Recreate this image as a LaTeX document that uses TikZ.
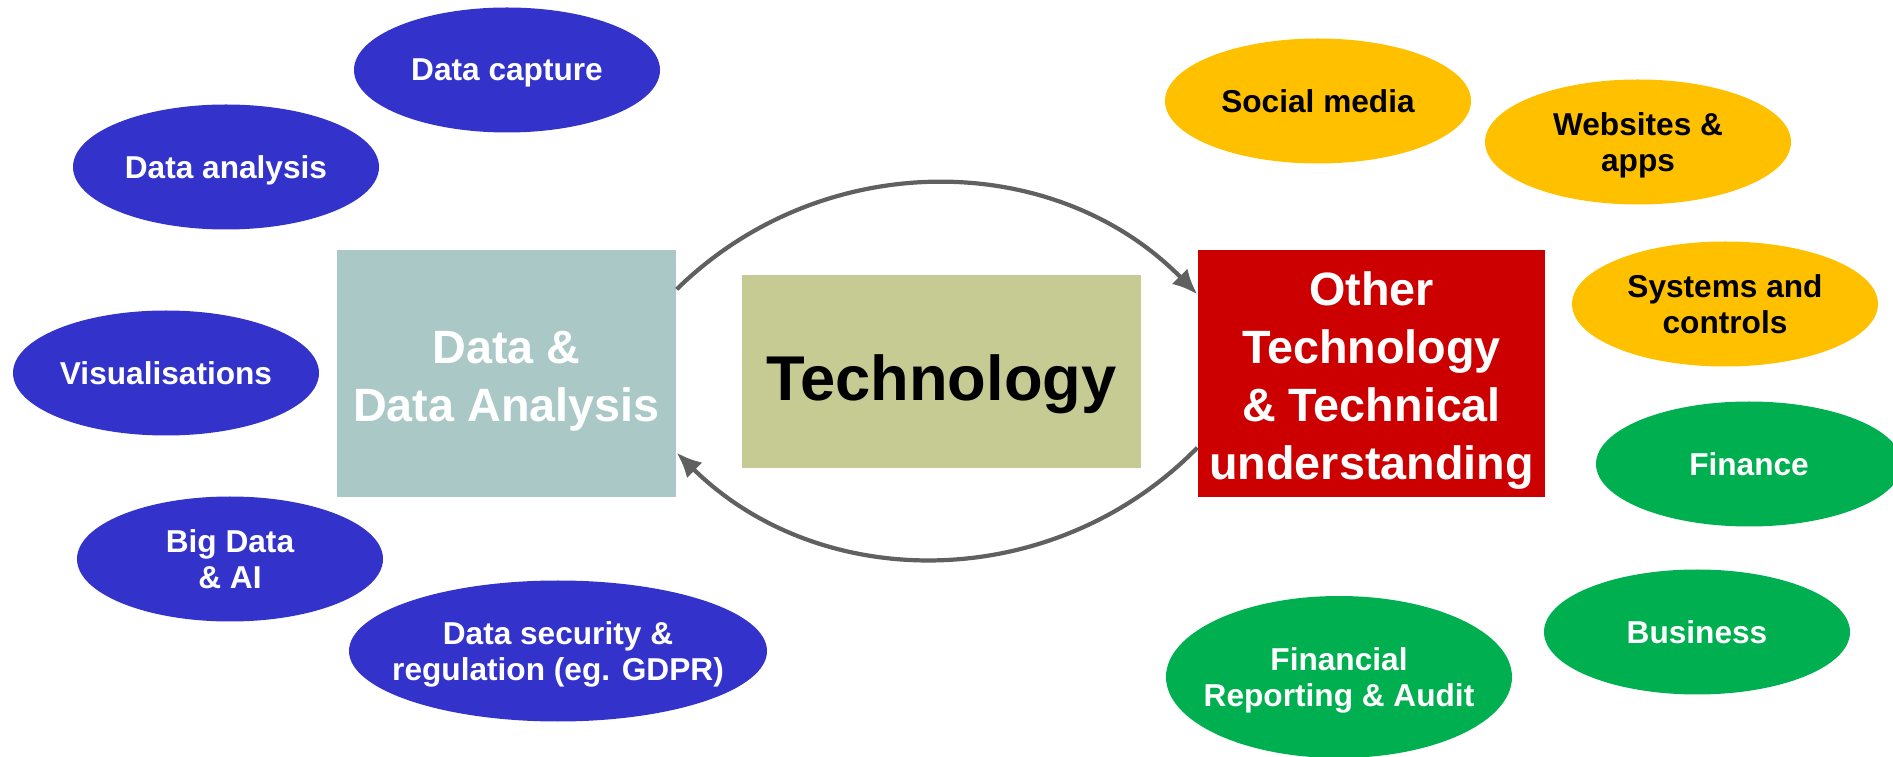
\documentclass[tikz,border=0pt]{standalone}
\usepackage{fontspec}
\setmainfont{Liberation Sans}
\usetikzlibrary{positioning,shapes.geometric,arrows.meta}

\definecolor{bubblue}{HTML}{3333CC}
\definecolor{bubyellow}{HTML}{FFC000}
\definecolor{bubgreen}{HTML}{00B050}
\definecolor{datateal}{HTML}{A9C8C6}
\definecolor{techolive}{HTML}{C6CA93}
\definecolor{othred}{HTML}{CC0000}
\definecolor{arrowgray}{HTML}{606060}

\tikzset{
    bubble/.style={ellipse, inner ysep=0pt, inner xsep=-4mm, minimum width=3.06cm, minimum height=1.25cm,
        text depth=0pt, align=center, font=\fontsize{9}{10.5}\selectfont\bfseries},
    bigbox/.style={rectangle, inner sep=0pt},
    boxtext/.style={inner sep=0pt, align=center, text=white,
        font=\fontsize{13.3}{16.5}\selectfont\bfseries},
    flow/.style={arrowgray, line width=1.2pt, -{Latex[length=2.5mm,width=2.2mm]}}
}

\begin{document}
\begin{tikzpicture}
    \useasboundingbox (0,0) rectangle (18.93,7.56);

    % centre boxes
    \node[bigbox, fill=datateal, minimum width=3.39cm, minimum height=2.47cm] (dat) at (5.065,3.825) {};
    \node[bigbox, fill=techolive, minimum width=3.99cm, minimum height=1.93cm] (tech) at (9.415,3.845) {};
    \node[bigbox, fill=othred, minimum width=3.47cm, minimum height=2.47cm] (oth) at (13.715,3.825) {};

    \node[boxtext] (dattxt) at ([yshift=-0.8mm]dat.center) {Data \&\\Data Analysis};
    \node[boxtext, text=black, font=\fontsize{18}{20}\selectfont\bfseries] (techtxt) at ([yshift=-1.3mm]tech.center) {Technology};
    \node[boxtext] (othtxt) at ([yshift=-0.7mm]oth.center) {Other\\Technology\\\& Technical\\understanding};

    \draw[flow] ([yshift=-4mm]dat.north east) to[bend left=45] ([yshift=-4.5mm]oth.north west);
    \draw[flow] ([yshift=5mm]oth.south west) to[bend left=45] ([yshift=4.5mm]dat.south east);

    % data side
    \node[bubble, fill=bubblue, text=white] (cap) at (5.07,6.86) {Data capture};
    \node[bubble, fill=bubblue, text=white] (ana) at (2.26,5.89) {Data analysis};
    \node[bubble, fill=bubblue, text=white] (vis) at (1.66,3.83) {Visualisations};
    \node[bubble, fill=bubblue, text=white] (big) at (2.30,1.97) {Big Data\\\& AI};
    \node[bubble, fill=bubblue, text=white, minimum width=4.18cm, minimum height=1.41cm] (sec) at (5.58,1.05) {Data security \&\\regulation (eg. GDPR)};

    % technology side
    \node[bubble, fill=bubyellow] (soc) at (13.18,6.55) {Social media};
    \node[bubble, fill=bubyellow] (web) at (16.38,6.14) {Websites \&\\apps};
    \node[bubble, fill=bubyellow] (sys) at (17.25,4.52) {Systems and\\controls};

    % business side
    \node[bubble, fill=bubgreen, text=white] (fin) at (17.49,2.92) {Finance};
    \node[bubble, fill=bubgreen, text=white] (bus) at (16.97,1.24) {Business};
    \node[bubble, fill=bubgreen, text=white, minimum width=3.46cm, minimum height=1.62cm] (frep) at (13.39,0.79) {Financial\\Reporting \& Audit};

\end{tikzpicture}
\end{document}
